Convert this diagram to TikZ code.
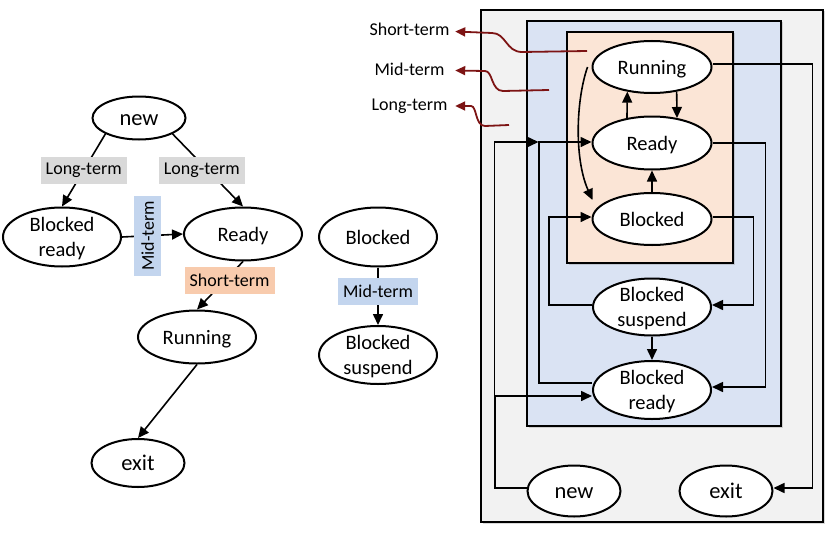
\documentclass[tikz,border=0pt]{standalone}
\usepackage{fontspec}
\setmainfont{Carlito}
\usetikzlibrary{shapes.geometric,arrows.meta,positioning,shadows,calc}

\definecolor{panelgray}{RGB}{242,242,242}
\definecolor{panelblue}{RGB}{218,227,243}
\definecolor{panelpeach}{RGB}{251,229,214}
\definecolor{taggray}{RGB}{217,217,217}
\definecolor{tagblue}{RGB}{195,213,238}
\definecolor{tagpeach}{RGB}{248,203,173}
\definecolor{schedred}{RGB}{125,20,20}

\begin{document}
\begin{tikzpicture}[x=1pt, y=-1pt,
    >={Triangle[length=11pt,width=10pt]},
    proc/.style={ellipse, draw, line width=2pt, fill=white, inner sep=0pt, minimum width=118pt, minimum height=53pt, align=center, text depth=0pt, font=\fontsize{20.5}{24.5}\selectfont},
    oneline/.style={text height=15pt},
    endpt/.style={proc, oneline, minimum width=93pt, font=\fontsize{22.5}{24.5}\selectfont},
    tag/.style={inner xsep=5pt, inner ysep=0pt, minimum height=27pt, font=\fontsize{18}{20}\selectfont},
    link/.style={->, line width=1.6pt},
    panel/.style={draw, line width=1.6pt, drop shadow={shadow xshift=1.5pt, shadow yshift=-1.5pt, opacity=0.3}},
    hinttext/.style={text width=86pt, align=center, inner xsep=2.5pt, inner ysep=0pt, text height=13pt, text depth=4pt, font=\fontsize{18}{20}\selectfont},
    hint/.style={-{Triangle[length=10pt,width=9pt]}, draw=schedred, line width=1.8pt}]
    \useasboundingbox (0,0) rectangle (832,535);

    % Left: transitions by scheduler
    \node[endpt, minimum height=43pt] (lnew) at (139,118) {new};
    \node[proc, minimum height=59pt] (lbr) at (62,237) {Blocked\\ready};
    \node[proc, oneline] (lready) at (243,234) {Ready};
    \node[proc, oneline] (lrun) at (197,337) {Running};
    \node[endpt, minimum height=48pt] (lexit) at (138,463) {exit};
    \node[proc, oneline, minimum height=59pt] (lblk) at (378,237) {Blocked};
    \node[proc, minimum height=58pt] (lbs) at (378,355) {Blocked\\suspend};

    \draw[link] (lnew.south west) -- node[tag, fill=taggray] {Long-term} (lbr.north);
    \draw[link] (lnew.south east) -- node[tag, fill=taggray, xshift=-6pt] {Long-term} (lready.north);
    \draw[link] (lbr.east) -- node[tag, fill=tagblue, rotate=90, pos=0.42] {Mid-term} (lready.west);
    \draw[link] (lready.south) -- node[tag, fill=tagpeach, pos=0.4, xshift=5pt] {Short-term} (lrun.north);
    \draw[link] (lrun.south) -- (lexit.north);
    \draw[link] (lblk.south) -- node[tag, fill=tagblue, pos=0.42] {Mid-term} (lbs.north);

    % Right: nested scheduler levels
    \draw[panel, fill=panelgray] (481,10) rectangle (823,522);
    \draw[panel, fill=panelblue] (527,21) rectangle (781,426);
    \draw[panel, fill=panelpeach] (567,32) rectangle (733,263);

    \node[proc, oneline, minimum width=119pt, minimum height=52pt] (rrun) at (652,67) {Running};
    \node[proc, oneline, minimum width=119pt] (rready) at (652,143) {Ready};
    \node[proc, oneline, minimum width=119pt, minimum height=52pt] (rblk) at (652,219) {Blocked};
    \node[proc, minimum height=57pt] (rbs) at (652,307) {Blocked\\suspend};
    \node[proc, minimum height=58pt] (rbr) at (652,390) {Blocked\\ready};
    \node[endpt, minimum height=51pt] (rnew) at (574,491) {new};
    \node[endpt, minimum height=51pt] (rexit) at (726,491) {exit};

    \draw[link] (rrun.-45) -- (rready.45);
    \draw[link] (rready.135) -- (rrun.-135);
    \draw[link] (rblk.north) -- (rready.south);
    \draw[link] (rbs.south) -- (rbr.north);
    \draw[link] ([xshift=-4pt]rrun.west) .. controls +(-12,35) and +(-18,-40) .. ($(rblk.west)+(1,-19)$);
    \draw[link] ([yshift=3pt]rrun.east) -- ++(100,0) |- ([yshift=3pt]rexit.east);
    \draw[link] (rready.east) -- ++(53,0) |- ([yshift=3pt]rbr.east);
    \draw[link] ([yshift=2pt]rblk.east) -- ++(41,0) |- ([yshift=2pt]rbs.east);
    \draw[link] ([yshift=2pt]rbs.west) -- ++(-43,0) |- ([yshift=2pt]rblk.west);
    \draw[link] ([yshift=7pt]rbr.west) -- ++(-53,0) |- ([yshift=1pt]rready.west);
    \coordinate (rjoin) at ([xshift=-53pt,yshift=1pt]rready.west);
    \draw[link] ([yshift=3pt]rnew.west) -| ([xshift=-44pt]rjoin) -- (rjoin);
    \draw[link] ([xshift=-31pt,yshift=3pt]rnew.west) |- ([yshift=-6pt]rbr.west);

    % Scheduler levels
    \node[hinttext] (hshort) at (409.5,31.5) {Short-term};
    \node[hinttext] (hmid) at (409.5,70.5) {Mid-term};
    \node[hinttext] (hlong) at (409.5,106) {Long-term};
    \coordinate (sshort) at (587,51);
    \coordinate (smid) at (549,90);
    \coordinate (slong) at (509,125);
    \draw[hint] (sshort) -- ++(-65,1) .. controls +(-16,0) and +(14,0) .. ++(-30,-19) -- (hshort.east);
    \draw[hint] (smid) -- ++(-46,1) .. controls +(-12,0) and +(8,0) .. ++(-18,-20) -- (hmid.east);
    \draw[hint] (slong) -- ++(-24,1) .. controls +(-10,0) and +(6,0) .. ++(-14,-20) -- (hlong.east);
\end{tikzpicture}
\end{document}
